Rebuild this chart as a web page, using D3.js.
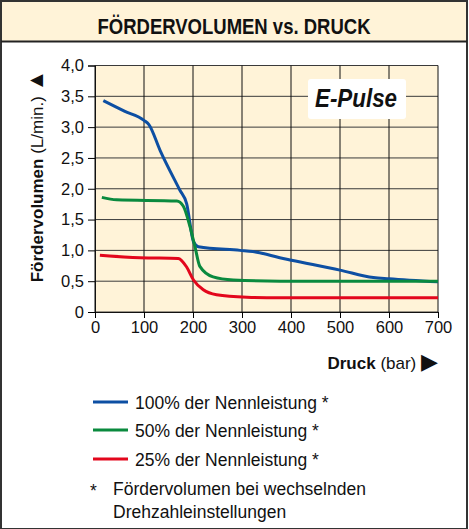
<!DOCTYPE html>
<html><head><meta charset="utf-8">
<script src="https://cdn.jsdelivr.net/npm/d3@7"></script>
<style>
html,body{margin:0;padding:0;background:#fff;}
svg{display:block;font-family:"Liberation Sans",Arial,Helvetica,sans-serif;}
</style></head>
<body>
<script>
const title = "FÖRDERVOLUMEN vs. DRUCK";
const xTicks = [0,100,200,300,400,500,600,700];
const yTicks = [0,0.5,1,1.5,2,2.5,3,3.5,4];
const yTickLabels = ["0","0,5","1,0","1,5","2,0","2,5","3,0","3,5","4,0"];
const seriesNames = ["100% der Nennleistung *","50% der Nennleistung *","25% der Nennleistung *"];
const seriesColors = ["#0d4fa3","#0a8a3e","#e3061c"];
const press100 = [17,60,100,110,133,173,187,201,211,296,322,336,377,401,500,568,600,700];
const flow100  = [3.43,3.26,3.11,3.04,2.62,1.98,1.76,1.14,1.06,1.0,0.98,0.96,0.88,0.84,0.68,0.56,0.54,0.49];
const press50 = [14,44,167,180,194,204,214,241,282,378,700];
const flow50  = [1.86,1.82,1.80,1.72,1.38,1.06,0.74,0.57,0.52,0.50,0.50];
const press25 = [10,92,170,187,201,221,248,310,377,700];
const flow25  = [0.92,0.88,0.87,0.73,0.52,0.36,0.28,0.24,0.23,0.23];
const footnote = ["*","Fördervolumen bei wechselnden","Drehzahleinstellungen"];

const W=469,H=529;
const svg=d3.select("body").append("svg").attr("width",W).attr("height",H);
svg.append("rect").attr("x",1).attr("y",1).attr("width",W-3).attr("height",H-1)
  .attr("fill","#fff").attr("stroke","#333").attr("stroke-width",2);
svg.append("rect").attr("x",2).attr("y",2).attr("width",W-5).attr("height",39)
  .attr("fill","#fff3d8");
svg.append("line").attr("x1",1).attr("x2",W-2).attr("y1",41.5).attr("y2",41.5)
  .attr("stroke","#222").attr("stroke-width",2);
svg.append("text").attr("x",234).attr("y",33.5).attr("text-anchor","middle")
  .attr("textLength",273).attr("lengthAdjust","spacingAndGlyphs")
  .attr("font-weight","bold").attr("font-size",22.5).attr("fill","#111").text(title);

const x=d3.scaleLinear().domain([0,700]).range([95,438]);
const y=d3.scaleLinear().domain([0,4]).range([312,65.5]);

svg.append("rect").attr("x",x(0)).attr("y",y(4)).attr("width",x(700)-x(0)).attr("height",y(0)-y(4))
  .attr("fill","#fff3d8");
const g=svg.append("g");
g.selectAll(".hg").data(yTicks).join("line").attr("x1",x(0)).attr("x2",x(700))
  .attr("y1",d=>y(d)).attr("y2",d=>y(d)).attr("stroke","#3a3a3a").attr("stroke-width",1);
g.selectAll(".vg").data(xTicks).join("line").attr("x1",d=>x(d)).attr("x2",d=>x(d))
  .attr("y1",y(4)).attr("y2",y(0)).attr("stroke","#111").attr("stroke-width",1);

const yAxis=d3.axisLeft(y).tickValues(yTicks).tickFormat((d,i)=>yTickLabels[i]).tickSize(7).tickPadding(4);
const ya=svg.append("g").attr("transform",`translate(${x(0)},0)`).call(yAxis);
ya.select(".domain").attr("stroke","#111");
ya.selectAll("text").attr("font-size",16.5).attr("fill","#111").attr("font-family","'Liberation Sans',Arial,sans-serif");
const xAxis=d3.axisBottom(x).tickValues(xTicks).tickSize(6).tickPadding(3);
const xa=svg.append("g").attr("transform",`translate(0,${y(0)})`).call(xAxis);
xa.select(".domain").attr("stroke","#111");
xa.selectAll("text").attr("font-size",16.5).attr("fill","#111").attr("font-family","'Liberation Sans',Arial,sans-serif");

const data=[d3.zip(press100,flow100),d3.zip(press50,flow50),d3.zip(press25,flow25)];
const line=d3.line().x(d=>x(d[0])).y(d=>y(d[1])).curve(d3.curveMonotoneX);
svg.selectAll(".ser").data(data).join("path").attr("d",line).attr("fill","none")
  .attr("stroke",(d,i)=>seriesColors[i]).attr("stroke-width",3).attr("stroke-linejoin","round");

svg.append("rect").attr("x",308).attr("y",79).attr("width",98).attr("height",40).attr("rx",3).attr("fill","#fff");
svg.append("text").attr("x",356).attr("y",107).attr("text-anchor","middle")
  .attr("textLength",82).attr("lengthAdjust","spacingAndGlyphs")
  .attr("font-weight","bold").attr("font-style","italic").attr("font-size",25)
  .attr("fill","#111").text("E-Pulse");

const yt=svg.append("text").attr("transform","translate(43,176) rotate(-90)").attr("text-anchor","middle")
  .attr("font-size",17).attr("fill","#111");
yt.append("tspan").attr("font-weight","bold").text("Fördervolumen");
yt.append("tspan").text(" (L/min.) ");
yt.append("tspan").attr("font-size",22).text("▲");
const xt=svg.append("text").attr("x",438).attr("y",369).attr("text-anchor","end").attr("font-size",17).attr("fill","#111");
xt.append("tspan").attr("font-weight","bold").text("Druck");
xt.append("tspan").text(" (bar)  ");
xt.append("tspan").attr("font-size",22).text("▶");

const lg=svg.append("g");
const ly=[402,430,459];
seriesNames.forEach((n,i)=>{
  lg.append("line").attr("x1",93).attr("x2",128).attr("y1",ly[i]).attr("y2",ly[i])
    .attr("stroke",seriesColors[i]).attr("stroke-width",3);
  lg.append("text").attr("x",135).attr("y",ly[i]+7).attr("font-size",17.5).attr("fill","#111").text(n);
});
lg.append("text").attr("x",90).attr("y",497).attr("font-size",17.5).attr("fill","#111").text(footnote[0]);
lg.append("text").attr("x",113).attr("y",495).attr("font-size",17.5).attr("fill","#111").text(footnote[1]);
lg.append("text").attr("x",113).attr("y",518).attr("font-size",17.5).attr("fill","#111").text(footnote[2]);
</script>
</body></html>
